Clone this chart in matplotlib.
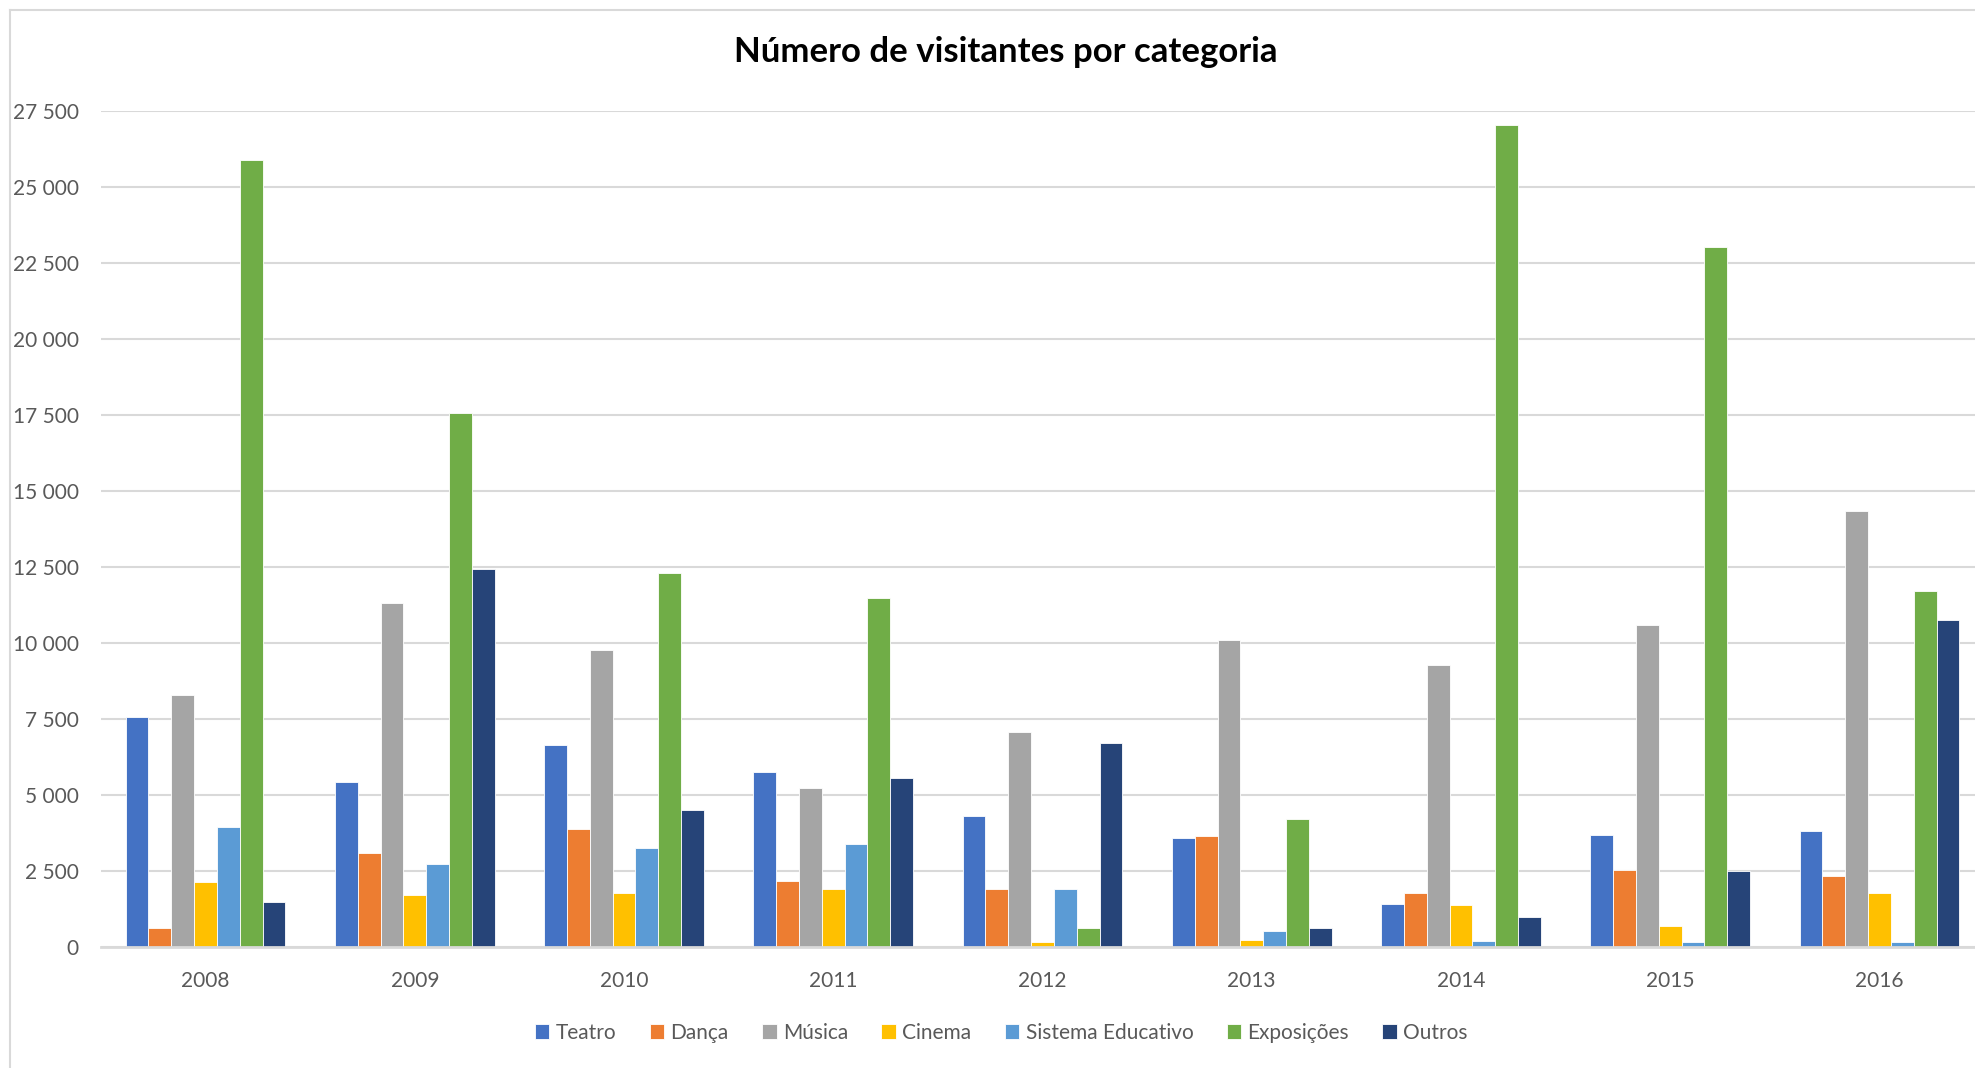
"""Grouped bar chart - Número de visitantes por categoria (2008-2016)."""

import numpy as np
import matplotlib
matplotlib.use("Agg")
import matplotlib.pyplot as plt
from matplotlib.lines import Line2D

plt.rcParams["font.family"] = ["Lato", "DejaVu Sans"]

years = ["2008", "2009", "2010", "2011", "2012", "2013", "2014", "2015", "2016"]
categories = ["Teatro", "Dança", "Música", "Cinema", "Sistema Educativo", "Exposições", "Outros"]

teatro = [7580, 5440, 6630, 5760, 4310, 3600, 1410, 3690, 3810]
danca = [630, 3105, 3895, 2155, 1905, 3645, 1780, 2525, 2320]
musica = [8285, 11310, 9775, 5220, 7085, 10105, 9280, 10600, 14330]
cinema = [2145, 1715, 1783, 1905, 165, 245, 1365, 705, 1780]
sistema = [3960, 2715, 3255, 3395, 1905, 540, 205, 165, 165]
exposicoes = [25890, 17560, 12300, 11475, 620, 4225, 27050, 23030, 11720]
outros = [1486, 12425, 4510, 5550, 6710, 620, 995, 2485, 10770]

series = [teatro, danca, musica, cinema, sistema, exposicoes, outros]
colors = ["#4472C4", "#ED7D31", "#A5A5A5", "#FFC000", "#5B9BD5", "#70AD47", "#264478"]

fig = plt.figure(figsize=(19.75, 10.68), dpi=100)
ax = fig.add_axes([0.0511, 0.1133, 1.0046 - 0.0511, 0.8961 - 0.1133])

# chart area border (only left and top visible, rest is cropped)
grey = "#D9D9D9"
fig.add_artist(Line2D([0.005, 0.005], [0.0, 0.991], color=grey, lw=1.5, transform=fig.transFigure))
fig.add_artist(Line2D([0.005, 1.0], [0.991, 0.991], color=grey, lw=1.5, transform=fig.transFigure))

x = np.arange(len(years))
n = len(series)
width = 1 / 9.17
for i, (vals, col, name) in enumerate(zip(series, colors, categories)):
    ax.bar(x + (i - (n - 1) / 2) * width, vals, width, color=col, label=name,
           edgecolor="white", linewidth=0.6, zorder=3)

ax.set_xlim(-0.5, len(years) - 0.5)
ax.set_ylim(0, 27500)
yt = np.arange(0, 27501, 2500)
ax.set_yticks(yt)
ax.set_yticklabels([f"{v:,}".replace(",", " ") for v in yt])
ax.set_xticks(x)
ax.set_xticklabels(years)

ax.grid(axis="y", color=grey, linewidth=1.5, zorder=0)
for s in ["top", "right", "left"]:
    ax.spines[s].set_visible(False)
ax.spines["bottom"].set_color(grey)
ax.spines["bottom"].set_linewidth(2)
ax.spines["bottom"].set_zorder(4)
ax.tick_params(axis="both", length=0, labelsize=15, labelcolor="#595959")
ax.tick_params(axis="y", pad=16)
ax.tick_params(axis="x", pad=17)

fig.text(0.509, 0.951, "Número de visitantes por categoria", ha="center", va="center",
         fontsize=25, fontweight="bold", color="black")

leg = fig.legend(loc="center", bbox_to_anchor=(0.507, 0.033), ncol=7, frameon=False,
                 fontsize=15, handlelength=0.7, handleheight=0.7, handletextpad=0.3,
                 columnspacing=1.6)
for t in leg.get_texts():
    t.set_color("#595959")

fig.savefig("out.png", dpi=100)
plt.close(fig)
